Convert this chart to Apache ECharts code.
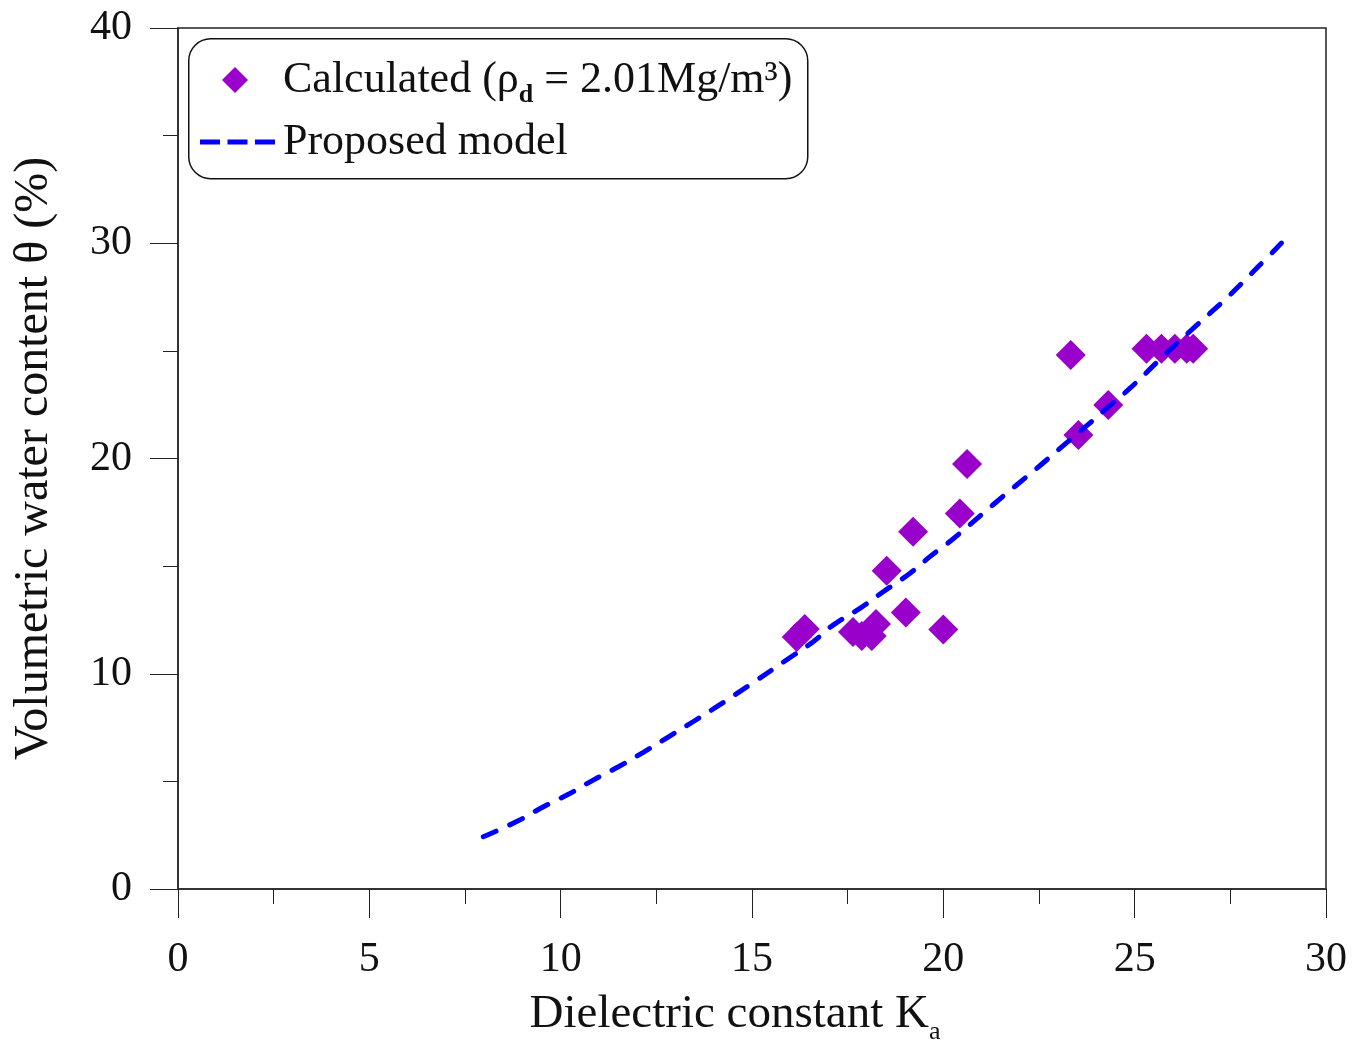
<!DOCTYPE html>
<html>
<head>
<meta charset="utf-8">
<script src="https://cdn.jsdelivr.net/npm/echarts@6/dist/echarts.min.js"></script>
<style>html,body{margin:0;padding:0;background:#fff;overflow:hidden;}#c{width:1366px;height:1040px;}</style>
</head>
<body>
<div id="c"></div>
<script>
// Calculated points (Ka, theta %)
const calcK = [16.17, 16.38, 17.64, 17.87, 18.13, 18.24, 19.02, 20.00, 18.52, 19.21, 20.43, 20.62, 23.33, 23.53, 24.31, 25.31, 25.70, 26.05, 26.36, 26.53];
const calcTheta = [11.71, 12.08, 11.94, 11.75, 11.75, 12.31, 12.84, 12.06, 14.79, 16.60, 17.45, 19.74, 24.81, 21.09, 22.48, 25.10, 25.10, 25.10, 25.10, 25.10];
// Proposed model curve
const modelK = [7.98, 8.89, 9.55, 10.20, 10.85, 11.51, 12.16, 12.82, 13.46, 14.08, 15.00, 15.90, 16.60, 17.12, 17.82, 18.43, 19.13, 19.65, 20.22, 20.61, 21.30, 21.87, 22.44, 23.05, 23.57, 24.22, 24.90, 25.60, 26.44, 26.97, 27.49, 28.01, 28.53, 29.01, 29.11];
const modelTheta = [2.43, 3.17, 3.82, 4.40, 5.06, 5.68, 6.35, 7.07, 7.77, 8.47, 9.55, 10.64, 11.49, 12.26, 13.04, 13.81, 14.67, 15.44, 16.21, 16.80, 17.85, 18.70, 19.54, 20.47, 21.25, 22.25, 23.30, 24.50, 25.90, 26.75, 27.60, 28.52, 29.45, 30.30, 30.40];
const xTicks = [0, 5, 10, 15, 20, 25, 30];
const yTicks = [0, 10, 20, 30, 40];
const seriesNames = ['Calculated', 'Proposed model'];

const FONT = '"Liberation Serif", "DejaVu Serif", serif';
const chart = echarts.init(document.getElementById('c'));
const zip = (a, b) => a.map((v, i) => [v, b[i]]);
const DASH_ICON = 'path://M0,0h20v5h-20z M27.5,0h20v5h-20z M55,0h20v5h-20z';

chart.setOption({
  backgroundColor: '#fff',
  animation: false,
  grid: { left: 178, right: 40, top: 28, bottom: 151, outerBoundsMode: 'none', containLabel: false,
    show: true, borderColor: '#222', borderWidth: 1.5, backgroundColor: 'transparent' },
  xAxis: {
    type: 'value', min: xTicks[0], max: xTicks[xTicks.length - 1], interval: 5,
    axisLine: { show: true, lineStyle: { color: '#333', width: 2 } },
    axisTick: { show: true, inside: false, length: 29, lineStyle: { color: '#222', width: 1 } },
    minorTick: { show: true, splitNumber: 2, length: 15, lineStyle: { color: '#222', width: 1 } },
    splitLine: { show: false },
    axisLabel: { margin: 50, color: '#111', fontFamily: FONT, fontSize: 42 },
    name: 'Dielectric constant K{sub|a}', nameLocation: 'middle', nameGap: 96,
    nameTextStyle: { color: '#111', fontFamily: FONT, fontSize: 47, padding: [0, 34, 0, 0],
      rich: { sub: { fontFamily: FONT, fontSize: 26, verticalAlign: 'bottom', padding: [34, 0, 0, 0], color: '#111' } } }
  },
  yAxis: {
    type: 'value', min: yTicks[0], max: yTicks[yTicks.length - 1], interval: 10,
    axisLine: { show: true, lineStyle: { color: '#333', width: 2 } },
    axisTick: { show: true, inside: false, length: 28, lineStyle: { color: '#222', width: 1 } },
    minorTick: { show: true, splitNumber: 2, length: 15, lineStyle: { color: '#222', width: 1 } },
    splitLine: { show: false },
    axisLabel: { margin: 46, color: '#111', fontFamily: FONT, fontSize: 42 },
    name: 'Volumetric water content θ (%)', nameLocation: 'middle', nameGap: 120,
    nameTextStyle: { color: '#111', fontFamily: FONT, fontSize: 48 }
  },
  legend: [
    {
      left: 217, top: 53, itemWidth: 26, itemHeight: 26,
      data: [{ name: seriesNames[0], icon: 'diamond' }],
      formatter: function () { return 'Calculated (ρ{sub|d} = 2.01Mg/m³)'; },
      textStyle: { color: '#111', fontFamily: FONT, fontSize: 44, padding: [0, 0, 0, 30],
        rich: { sub: { fontFamily: FONT, fontSize: 26, fontWeight: 'bold', verticalAlign: 'bottom', padding: [30, 0, 0, 0], color: '#111' } } }
    },
    {
      left: 195, top: 115, itemWidth: 75, itemHeight: 5,
      data: [{ name: seriesNames[1], icon: DASH_ICON, itemStyle: { color: '#0000FF' } }],
      textStyle: { color: '#111', fontFamily: FONT, fontSize: 44, padding: [0, 0, 0, 3] }
    }
  ],
  graphic: [{
    type: 'rect', left: 188, top: 38, z: 100, silent: true,
    shape: { width: 619, height: 140, r: 22 },
    style: { fill: 'transparent', stroke: '#111', lineWidth: 1.5 }
  }],
  series: [
    {
      name: seriesNames[0], type: 'scatter', symbol: 'diamond', symbolSize: 30,
      itemStyle: { color: '#9900CC', opacity: 1 },
      data: zip(calcK, calcTheta), z: 2
    },
    {
      name: seriesNames[1], type: 'line', showSymbol: false, symbol: 'none', smooth: true,
      lineStyle: { color: '#0000FF', width: 5, type: [14, 15], cap: 'round' },
      itemStyle: { color: '#0000FF' },
      data: zip(modelK, modelTheta), z: 3
    }
  ]
});
</script>
</body>
</html>
